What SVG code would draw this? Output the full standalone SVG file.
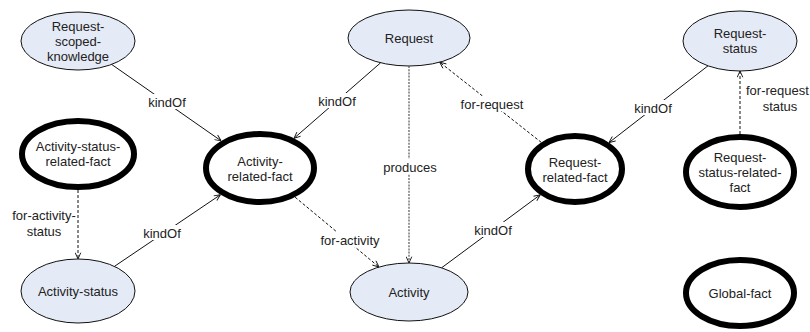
<svg xmlns="http://www.w3.org/2000/svg" width="810" height="332" viewBox="0 0 810 332">
  <style>
    text { font-family: "Liberation Sans", Arial, Helvetica, sans-serif; font-size: 13px; fill: #222; text-anchor: middle; }
    .concept { fill: #e5ebf6; stroke: #111; stroke-width: 1; }
    .fact { fill: #ffffff; stroke: #000; stroke-width: 6; }
    .edge { fill: none; stroke: #111; stroke-width: 1; }
    .dashed { stroke-dasharray: 3 2; }
    .dotted { stroke: #555; stroke-width: 1.2; stroke-dasharray: 2 1.2; }
    .lbl-bg { fill: #ffffff; stroke: none; }
  </style>
  <defs>
    <marker id="open" viewBox="0 0 10 10" refX="10" refY="5" markerWidth="7" markerHeight="7" markerUnits="userSpaceOnUse" orient="auto">
      <path d="M1,1 L10,5 L1,9" fill="none" stroke="#111" stroke-width="1.3"/>
    </marker>
  </defs>

  <!-- nodes -->
  <g id="request-scoped-knowledge">
    <ellipse class="concept" cx="78" cy="41" rx="57" ry="29"/>
    <text x="78" y="30.5">Request-</text>
    <text x="78" y="45.5">scoped-</text>
    <text x="78" y="60.5">knowledge</text>
  </g>
  <g id="request">
    <ellipse class="concept" cx="409" cy="38" rx="61" ry="28"/>
    <text x="409" y="42.5">Request</text>
  </g>
  <g id="request-status">
    <ellipse class="concept" cx="740" cy="41" rx="57" ry="30"/>
    <text x="740" y="38">Request-</text>
    <text x="740" y="53">status</text>
  </g>
  <g id="activity-status-related-fact">
    <ellipse class="fact" cx="78" cy="154" rx="56" ry="33"/>
    <text x="78" y="151">Activity-status-</text>
    <text x="78" y="166">related-fact</text>
  </g>
  <g id="activity-related-fact">
    <ellipse class="fact" cx="260" cy="168" rx="54" ry="34"/>
    <text x="260" y="165.5">Activity-</text>
    <text x="260" y="180.5">related-fact</text>
  </g>
  <g id="request-related-fact">
    <ellipse class="fact" cx="575" cy="169" rx="47" ry="33"/>
    <text x="575" y="166.5">Request-</text>
    <text x="575" y="181.5">related-fact</text>
  </g>
  <g id="request-status-related-fact">
    <ellipse class="fact" cx="740" cy="172" rx="54" ry="35"/>
    <text x="740" y="161.5">Request-</text>
    <text x="740" y="176.5">status-related-</text>
    <text x="740" y="191.5">fact</text>
  </g>
  <g id="activity-status">
    <ellipse class="concept" cx="78" cy="291" rx="57" ry="32"/>
    <text x="78" y="295.5">Activity-status</text>
  </g>
  <g id="activity">
    <ellipse class="concept" cx="409" cy="292" rx="59" ry="29"/>
    <text x="409" y="296.5">Activity</text>
  </g>
  <g id="global-fact">
    <ellipse class="fact" cx="740" cy="293" rx="54" ry="33"/>
    <text x="740" y="297.5">Global-fact</text>
  </g>

  <!-- connectors -->
  <g id="connectors">
    <!-- Request-scoped-knowledge kindOf Activity-related-fact -->
    <line class="edge" x1="111.6" y1="64.4" x2="221.2" y2="140.9" marker-end="url(#open)"/>
    <rect class="lbl-bg" x="147" y="94" width="40" height="15"/>
    <text x="167" y="106.5">kindOf</text>

    <!-- Request kindOf Activity-related-fact -->
    <line class="edge" x1="380.6" y1="62.8" x2="294" y2="138.3" marker-end="url(#open)"/>
    <rect class="lbl-bg" x="317" y="93" width="40" height="15"/>
    <text x="337" y="105.5">kindOf</text>

    <!-- Activity-status-related-fact for-activity-status Activity-status -->
    <line class="edge dashed" x1="78" y1="190" x2="78" y2="259" marker-end="url(#open)"/>
    <text x="44" y="219.5">for-activity-</text>
    <text x="44" y="235.5">status</text>

    <!-- Activity-status kindOf Activity-related-fact -->
    <line class="edge" x1="114.4" y1="266.4" x2="220.5" y2="194.7" marker-end="url(#open)"/>
    <rect class="lbl-bg" x="142" y="225" width="40" height="15"/>
    <text x="162" y="237.5">kindOf</text>

    <!-- Activity-related-fact for-activity Activity -->
    <line class="edge dashed" x1="295.1" y1="197.2" x2="379" y2="267" marker-end="url(#open)"/>
    <rect class="lbl-bg" x="319" y="232" width="62" height="15"/>
    <text x="350" y="244.5">for-activity</text>

    <!-- Request produces Activity -->
    <line class="edge dotted" x1="409" y1="66" x2="409" y2="263" marker-end="url(#open)"/>
    <rect class="lbl-bg" x="383" y="159" width="54" height="15"/>
    <text x="410" y="171.5">produces</text>

    <!-- Request-related-fact for-request Request -->
    <line class="edge dashed" x1="541.3" y1="142.4" x2="439.7" y2="62.2" marker-end="url(#open)"/>
    <rect class="lbl-bg" x="460" y="96" width="64" height="15"/>
    <text x="492" y="108.5">for-request</text>

    <!-- Activity kindOf Request-related-fact -->
    <line class="edge" x1="441.6" y1="267.8" x2="540.2" y2="194.8" marker-end="url(#open)"/>
    <rect class="lbl-bg" x="473" y="222" width="40" height="15"/>
    <text x="493" y="234.5">kindOf</text>

    <!-- Request-status kindOf Request-related-fact -->
    <line class="edge" x1="708" y1="65.8" x2="609" y2="142.6" marker-end="url(#open)"/>
    <rect class="lbl-bg" x="633" y="100" width="40" height="15"/>
    <text x="653" y="112.5">kindOf</text>

    <!-- Request-status-related-fact for-request-status Request-status -->
    <line class="edge dashed" x1="740" y1="134" x2="740" y2="71" marker-end="url(#open)"/>
    <text x="746" y="94.5" style="text-anchor: start">for-request</text>
    <text x="780" y="110.5">status</text>
  </g>
</svg>
